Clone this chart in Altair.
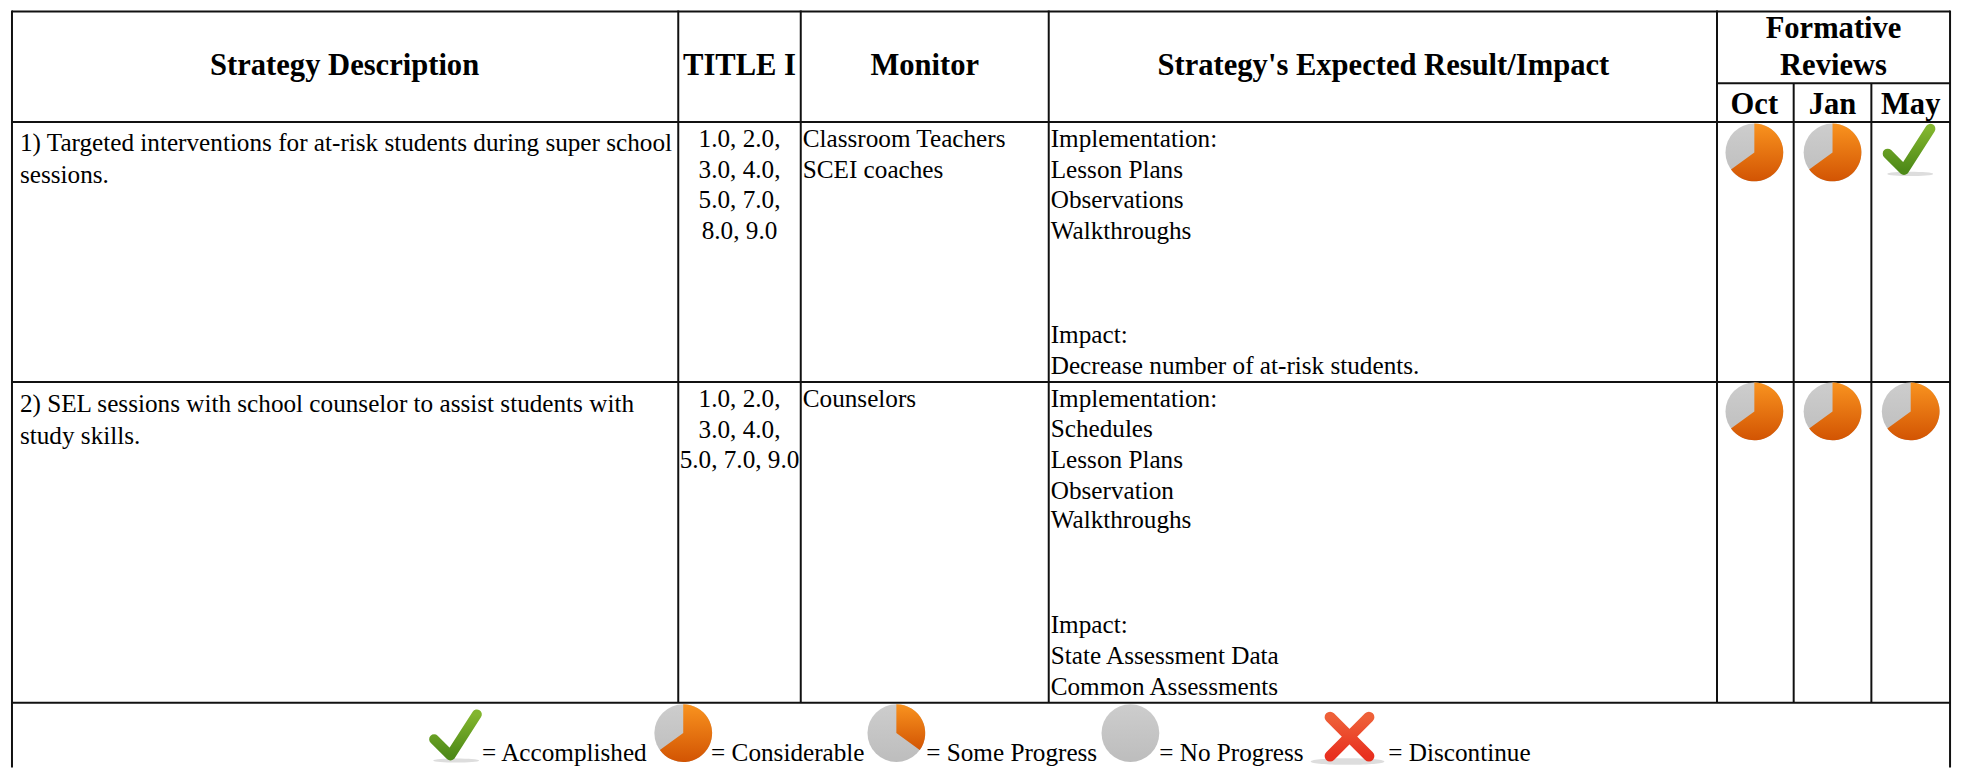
import altair as alt
import pandas as pd

# ---- table content ----
headers = ["Strategy Description", "TITLE I", "Monitor", "Strategy's Expected Result/Impact", "Formative", "Reviews", "Oct", "Jan", "May"]
strategy = [["1) Targeted interventions for at-risk students during super school", "sessions."],
            ["2) SEL sessions with school counselor to assist students with", "study skills."]]
title_i = [["1.0, 2.0,", "3.0, 4.0,", "5.0, 7.0,", "8.0, 9.0"],
           ["1.0, 2.0,", "3.0, 4.0,", "5.0, 7.0, 9.0"]]
monitor = [["Classroom Teachers", "SCEI coaches"], ["Counselors"]]
impact = [["Implementation:", "Lesson Plans", "Observations", "Walkthroughs", "Impact:", "Decrease number of at-risk students."],
          ["Implementation:", "Schedules", "Lesson Plans", "Observation", "Walkthroughs", "Impact:", "State Assessment Data", "Common Assessments"]]
# share of each review pie that is complete, by row (None = check mark)
reviews = [[0.65, 0.65, None], [0.65, 0.65, 0.65]]
legend_labels = ["= Accomplished", "= Considerable", "= Some Progress", "= No Progress", "= Discontinue"]
legend_shares = [0.65, 0.35, 0.0]

# ---- layout (page pixels) ----
PAGE_W, PAGE_H, MARGIN = 1969, 768, 8
V_FULL = [12, 681, 804, 1053, 1724, 1958]
V_SUB = [1801, 1879]
H_FULL = [9, 120, 381, 703]
H_RIGHT = [81]
COL_CENTER = [346, 742.5, 928.5, 1389, 1841]
REVIEW_X = [1761.5, 1840, 1918.5]
STRATEGY_BASE = [[149, 181], [411, 443]]
COL_BASE = [[145, 176, 206.5, 237.5], [406, 437, 467.5]]
IMPACT_BASE = [[145, 176, 206.5, 237.5, 342, 373], [406, 436.5, 467, 498, 528, 633, 664, 695]]
LEGEND_TEXT_X = [484, 714, 930, 1164, 1394]
LEGEND_PIE_X = [686, 900, 1135]
BODY, HEAD = 25.3, 30.7

FONT = "Liberation Serif"
x_scale = alt.Scale(domain=[MARGIN, PAGE_W], range=[0, PAGE_W - MARGIN], nice=False, zero=False)
y_scale = alt.Scale(domain=[MARGIN, PAGE_H], range=[0, PAGE_H - MARGIN], nice=False, zero=False)
X = lambda f="x": alt.X(f"{f}:Q", scale=x_scale, axis=None)
Y = lambda f="y": alt.Y(f"{f}:Q", scale=y_scale, axis=None)

layers = []

# grid
rules = []
for x in V_FULL:
    rules.append(dict(x=x, x2=x, y=8, y2=PAGE_H if x in (12, 1958) else 703))
for x in V_SUB:
    rules.append(dict(x=x, x2=x, y=81, y2=703))
for y in H_FULL:
    rules.append(dict(x=12, x2=1958, y=y, y2=y))
for y in H_RIGHT:
    rules.append(dict(x=1724, x2=1958, y=y, y2=y))
layers.append(alt.Chart(pd.DataFrame(rules)).mark_rule(color="#111111", strokeWidth=2).encode(
    x=X(), x2="x2:Q", y=Y(), y2="y2:Q"))

# text
def text_layer(rows, align, size, bold=False):
    return alt.Chart(pd.DataFrame(rows)).mark_text(
        align=align, baseline="alphabetic", font=FONT, fontSize=size, color="black",
        fontWeight="bold" if bold else "normal").encode(x=X(), y=Y(), text="t:N")

head = [dict(t=headers[0], x=COL_CENTER[0], y=73), dict(t=headers[1], x=COL_CENTER[1], y=73),
        dict(t=headers[2], x=COL_CENTER[2], y=73), dict(t=headers[3], x=COL_CENTER[3], y=73),
        dict(t=headers[4], x=COL_CENTER[4], y=36), dict(t=headers[5], x=COL_CENTER[4], y=73)]
for i, m in enumerate(headers[6:]):
    head.append(dict(t=m, x=REVIEW_X[i], y=112))
layers.append(text_layer(head, "center", HEAD, True))

left, center = [], []
for r in range(2):
    for s, y in zip(strategy[r], STRATEGY_BASE[r]):
        left.append(dict(t=s, x=20, y=y))
    for s, y in zip(title_i[r], COL_BASE[r]):
        center.append(dict(t=s, x=COL_CENTER[1], y=y))
    for s, y in zip(monitor[r], COL_BASE[r]):
        left.append(dict(t=s, x=806, y=y))
    for s, y in zip(impact[r], IMPACT_BASE[r]):
        left.append(dict(t=s, x=1055, y=y))
layers.append(text_layer(left, "left", BODY))
layers.append(text_layer(center, "center", BODY))
layers.append(text_layer([dict(t=t, x=x, y=762) for t, x in zip(legend_labels, LEGEND_TEXT_X)], "left", BODY))

# pies
pies = []
for r, row in enumerate(reviews):
    cy = 150.5 if r == 0 else 410.5
    for c, share in enumerate(row):
        if share is not None:
            pies.append(dict(x=REVIEW_X[c], y=cy, start=0, end=share))
for cx, share in zip(LEGEND_PIE_X, legend_shares):
    pies.append(dict(x=cx, y=733.5, start=0, end=share))
pies = pd.DataFrame(pies)
grey = pies.assign(end=1.0)
theta_scale = alt.Scale(domain=[0, 1], range=[0, 6.2832], nice=False)

def grad(top, bottom):
    return {"gradient": "linear", "x1": 0, "y1": 0, "x2": 0, "y2": 1,
            "stops": [{"offset": 0, "color": top}, {"offset": 1, "color": bottom}]}

def pie_layer(df, fill):
    return alt.Chart(df).mark_arc(outerRadius=29, innerRadius=0, fill=fill).encode(
        x=X(), y=Y(),
        theta=alt.Theta("start:Q", scale=theta_scale, stack=None), theta2="end:Q")

layers.append(pie_layer(grey, grad("#cdcdcd", "#bdbdbd")))
layers.append(pie_layer(pies[pies.end > 0], grad("#f9931f", "#d25403")))

# check marks, cross and their shadows
CHECK = "M-.87,.16 L-.24,.79 L.78,-.8"
CROSS = "M-.75,-.75 L.75,.75 M.75,-.75 L-.75,.75"
SHADOW = "M-1,0 C-1,-.12 1,-.12 1,0 C1,.12 -1,.12 -1,0Z"

def icon(rows, shape, px, **kw):
    return alt.Chart(pd.DataFrame(rows)).mark_point(shape=shape, size=px * px, opacity=1, **kw).encode(x=X(), y=Y())

layers.append(icon([dict(x=1918, y=172), dict(x=458, y=761)], SHADOW, 46, filled=True, fill="#aaaaaa", strokeWidth=0, fillOpacity=0.4))
layers.append(icon([dict(x=1353, y=762)], SHADOW, 74, filled=True, fill="#aaaaaa", strokeWidth=0, fillOpacity=0.4))
layers.append(icon([dict(x=1918, y=147.5), dict(x=458.5, y=735.5)], CHECK, 52, filled=False,
                   stroke=grad("#82b52e", "#4e8a18"), strokeWidth=10, strokeCap="round", strokeJoin="round"))
layers.append(icon([dict(x=1355, y=737)], CROSS, 52, filled=False,
                   stroke=grad("#ee6038", "#e8301f"), strokeWidth=11, strokeCap="round"))

chart = alt.layer(*layers).properties(
    width=PAGE_W - MARGIN, height=PAGE_H - MARGIN, padding=0, background="white",
).configure_view(stroke=None)
chart.save("out.html", embed_options={"renderer": "svg", "actions": False})
